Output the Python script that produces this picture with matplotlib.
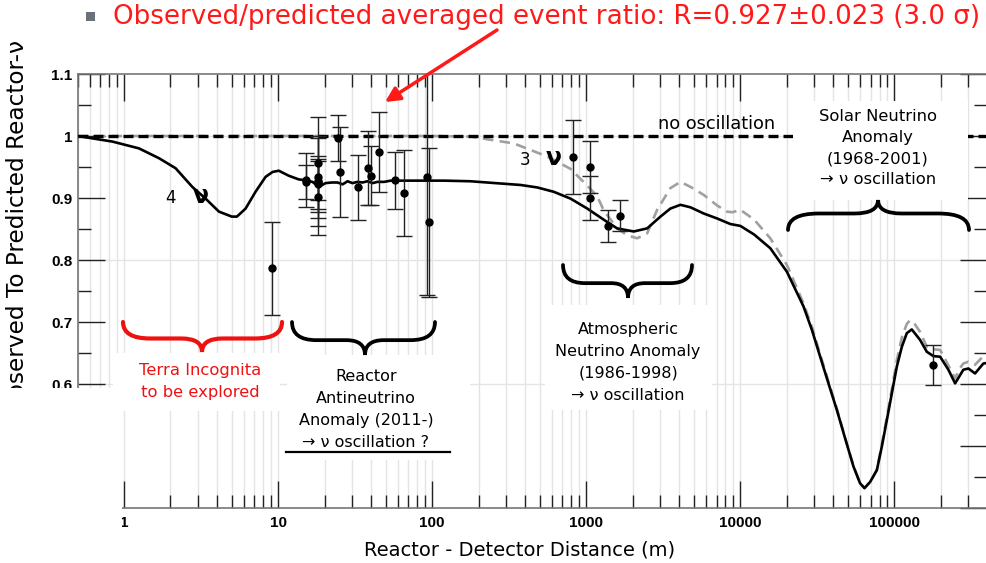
import matplotlib
matplotlib.use("Agg")
import matplotlib.pyplot as plt
from matplotlib.patches import Rectangle, PathPatch
from matplotlib.path import Path
from matplotlib.lines import Line2D
from matplotlib.transforms import Affine2D
from matplotlib.ticker import FixedLocator, NullFormatter, LogLocator

# ---------------- data ----------------
dist_4nu = [0.5, 0.84, 1.25, 1.69, 2.16, 2.77, 3.38, 4.13, 5.0, 5.4, 6.15, 7.13,
            8.28, 9.2, 10.1, 11.7, 13.6, 14.7, 16.7, 18.4, 20.3, 22.3, 24.3,
            26.2, 28.2, 30.4, 32.7, 35.3, 38.0, 41.0, 44.1, 48.7, 53.8, 59.4,
            119, 177, 375, 481, 615, 790, 1014, 1298, 1585, 2033, 2483, 3030,
            3516, 4083, 4742, 5781, 7059, 8616, 10000, 12300, 15640, 20050,
            25700, 29150, 32960, 37300, 42300, 47900, 54200, 59800, 63900,
            69500, 76900, 82800, 89300, 96200, 103600, 111700, 120300, 129600,
            146800, 162200, 179000, 197900, 224000, 247600, 280000, 302000,
            333600, 377600, 400000]
ratio_4nu = [1.000, 0.991, 0.980, 0.964, 0.948, 0.918, 0.899, 0.878, 0.870, 0.870,
             0.883, 0.910, 0.934, 0.942, 0.944, 0.936, 0.930, 0.929, 0.926, 0.918,
             0.924, 0.925, 0.925, 0.922, 0.927, 0.924, 0.926, 0.925, 0.927, 0.924,
             0.926, 0.926, 0.928, 0.928, 0.928, 0.927, 0.921, 0.917, 0.910, 0.899,
             0.883, 0.865, 0.851, 0.846, 0.851, 0.870, 0.883, 0.889, 0.885, 0.875,
             0.867, 0.858, 0.855, 0.841, 0.819, 0.781, 0.725, 0.687, 0.644, 0.601,
             0.558, 0.512, 0.467, 0.440, 0.432, 0.442, 0.461, 0.499, 0.542, 0.585,
             0.628, 0.660, 0.682, 0.688, 0.671, 0.652, 0.645, 0.644, 0.623, 0.601,
             0.623, 0.625, 0.617, 0.633, 0.634]

dist_3nu = [0.5, 100, 177, 339, 557, 790, 1014, 1176, 1298, 1585, 1841, 2138,
            2483, 2884, 3516, 4083, 4742, 5781, 7059, 8185, 8900, 10000, 12300,
            15640, 20050, 25700, 29150, 32960, 37300, 42300, 47900, 54200,
            59800, 63900, 69500, 76900, 82800, 89300, 96200, 103600, 111700,
            120300, 126500, 135000, 146800, 162200, 179000, 197900, 224000,
            247600, 265000, 280000, 302000, 333600, 377600, 400000]
ratio_3nu = [1.000, 1.000, 0.999, 0.988, 0.967, 0.947, 0.920, 0.903, 0.880, 0.851,
             0.840, 0.835, 0.843, 0.881, 0.916, 0.926, 0.918, 0.905, 0.888, 0.878,
             0.877, 0.881, 0.865, 0.835, 0.792, 0.730, 0.692, 0.648, 0.604, 0.560,
             0.513, 0.468, 0.440, 0.432, 0.442, 0.462, 0.502, 0.547, 0.592, 0.638,
             0.675, 0.697, 0.703, 0.697, 0.684, 0.660, 0.656, 0.655, 0.630, 0.609,
             0.625, 0.633, 0.636, 0.631, 0.645, 0.647]

no_osc_dist = [0.5, 400000]
no_osc_ratio = [1.0, 1.0]

exp_dist = [9.06, 15.1, 15.1, 18.2, 18.2, 18.2, 18.2, 18.2, 18.2, 24.3, 25.2,
            33.0, 38.3, 39.9, 45.2, 57.1, 65.6, 93.1, 95.3, 822, 1055, 1055,
            1387, 1667, 179000]
exp_ratio = [0.787, 0.929, 0.926, 0.956, 0.934, 0.928, 0.926, 0.922, 0.902, 0.997,
             0.942, 0.917, 0.948, 0.936, 0.974, 0.929, 0.908, 0.934, 0.861, 0.966,
             0.950, 0.900, 0.855, 0.871, 0.631]
exp_err = [0.075, 0.044, 0.028, 0.074, 0.066, 0.031, 0.071, 0.045, 0.061, 0.037,
           0.073, 0.053, 0.060, 0.048, 0.064, 0.046, 0.069, 0.190, 0.120, 0.060,
           0.042, 0.036, 0.026, 0.025, 0.032]

x_ticks = [1, 10, 100, 1000, 10000, 100000]
x_tick_labels = ["1", "10", "100", "1000", "10000", "100000"]
y_ticks = [0.4, 0.5, 0.6, 0.7, 0.8, 0.9, 1.0, 1.1]
y_tick_labels = ["0.4", "0.5", "0.6", "0.7", "0.8", "0.9", "1", "1.1"]
y_minor = [0.45, 0.55, 0.65, 0.75, 0.85, 0.95, 1.05]
y_grid = [0.4, 0.6, 0.8, 1.0]

title_text = "Observed/predicted averaged event ratio: R=0.927\u00b10.023 (3.0 \u03c3)"
ylabel_text = "Observed To Predicted Reactor-\u03bd"
xlabel_text = "Reactor - Detector Distance (m)"

# ---------------- figure ----------------
W, H = 987, 563
fig = plt.figure(figsize=(W / 100, H / 100), dpi=100)
ax = fig.add_axes([77.7 / W, 1 - 508 / H, (987.2 - 77.7) / W, (508 - 74) / H])
PX = Affine2D().scale(1 / W, -1 / H).translate(0, 1) + fig.transFigure
renderer = fig.canvas.get_renderer()

ax.set_xscale("log")
ax.set_xlim(0.5, 4e5)
ax.set_ylim(0.4, 1.1)
ax.set_axisbelow(True)

ax.xaxis.set_major_locator(FixedLocator(x_ticks))
ax.set_xticklabels(x_tick_labels)
ax.xaxis.set_minor_locator(LogLocator(base=10, subs=[2, 3, 4, 5, 6, 7, 8, 9], numticks=20))
ax.xaxis.set_minor_formatter(NullFormatter())
ax.yaxis.set_major_locator(FixedLocator(y_ticks))
ax.set_yticklabels(y_tick_labels)
ax.yaxis.set_minor_locator(FixedLocator(y_minor))

for lab in ax.get_xticklabels() + ax.get_yticklabels():
    lab.set_fontfamily(["Liberation Sans", "DejaVu Sans"])
    lab.set_fontweight("bold")
    lab.set_fontsize(11)

ax.tick_params(which="major", direction="in", length=19.5, width=1.0, color="#222222",
               top=True, right=True)
ax.tick_params(which="minor", direction="in", length=9.5, width=1.0, color="#222222",
               top=True, right=True)
ax.tick_params(axis="x", which="major", pad=6)
ax.tick_params(axis="y", which="major", pad=4)
for sp in ax.spines.values():
    sp.set_color("#777777")
    sp.set_linewidth(1.2)

ax.grid(True, axis="x", which="both", color="#e4e4e4", lw=1.0)
for gy in y_grid:
    ax.axhline(gy, color="#e4e4e4", lw=1.0, zorder=0.5)

# curves
ax.plot(dist_3nu, ratio_3nu, color="#a0a0a0", lw=1.9, dashes=(4, 2.4), zorder=3)
ax.plot(no_osc_dist, no_osc_ratio, color="black", lw=2.4, dashes=(3.0, 1.5), zorder=3.1)
ax.plot(dist_4nu, ratio_4nu, color="black", lw=1.9, zorder=3.2)
ax.errorbar(exp_dist, exp_ratio, yerr=exp_err, fmt="o", color="black", ms=5,
            ecolor="#222222", elinewidth=1.0, capsize=5.5, capthick=1.0, zorder=4)

# ---------------- white label boxes (figure pixels) ----------------
def white_box(x0, y0, x1, y1):
    fig.add_artist(Rectangle((x0, y1), x1 - x0, y0 - y1, transform=PX,
                             facecolor="white", edgecolor="none", zorder=2))

white_box(0, 388, 122.3, 563)
white_box(113, 353, 280, 411)
white_box(287, 355, 470, 460)
white_box(545, 305, 712, 410)
white_box(793, 101, 968, 200)

# ---------------- braces ----------------
def brace(x0, x1, y0, d, xm, color, lw):
    wdt = x1 - x0
    q = 0.17 * wdt
    q2 = 0.13 * wdt
    ya = y0 + 0.55 * d
    yt = y0 + d
    verts = [(x0, y0), (x0, ya), (x0 + q, ya), (xm - q2, ya), (xm, ya), (xm, yt),
             (xm, ya), (xm + q2, ya), (x1 - q, ya), (x1, ya), (x1, y0)]
    codes = [Path.MOVETO, Path.CURVE3, Path.CURVE3, Path.LINETO, Path.CURVE3,
             Path.CURVE3, Path.CURVE3, Path.CURVE3, Path.LINETO, Path.CURVE3,
             Path.CURVE3]
    fig.add_artist(PathPatch(Path(verts, codes), transform=PX, facecolor="none",
                             edgecolor=color, lw=lw, capstyle="round", zorder=3))

brace(123, 282, 322, 30, 202, "#ee1111", 3.0)
brace(292, 435, 322, 33, 365, "black", 2.7)
brace(563, 692, 265, 33, 628, "black", 2.7)
brace(788, 969, 230, -30, 878, "black", 2.7)

# ---------------- texts ----------------
ann_font = ["DejaVu Sans"]
fig.text(628, 362.5, "Atmospheric\nNeutrino Anomaly\n(1986-1998)\n\u2192 \u03bd oscillation",
         transform=PX, ha="center", va="center", multialignment="center",
         fontsize=11.5, linespacing=1.56, family=ann_font, zorder=4)
fig.text(878, 148, "Solar Neutrino\nAnomaly\n(1968-2001)\n\u2192 \u03bd oscillation",
         transform=PX, ha="center", va="center", multialignment="center",
         fontsize=11.8, linespacing=1.52, family=ann_font, zorder=4)
fig.text(366, 409.5, "Reactor\nAntineutrino\nAnomaly (2011-)\n\u2192 \u03bd oscillation ?",
         transform=PX, ha="center", va="center", multialignment="center",
         fontsize=11.5, linespacing=1.56, family=ann_font, zorder=4)
fig.add_artist(Line2D([286, 450], [452, 452], transform=PX, color="black", lw=1.6, zorder=4))
fig.text(200, 381.5, "Terra Incognita\nto be explored", transform=PX, ha="center",
         va="center", multialignment="center", fontsize=11.8, linespacing=1.6,
         color="#ee1111", family=ann_font, zorder=4)
fig.text(717, 124, "no oscillation", transform=PX, ha="center", va="center",
         fontsize=12.8, family=ann_font, zorder=4)
fig.text(170, 198, "4", transform=PX, ha="center", va="center", fontsize=12,
         family=ann_font, zorder=4)
fig.text(201, 196, "\u03bd", transform=PX, ha="center", va="center", fontsize=17,
         weight="bold", family=ann_font, zorder=4)
fig.text(525, 160, "3", transform=PX, ha="center", va="center", fontsize=12,
         family=ann_font, zorder=4)
fig.text(554, 158, "\u03bd", transform=PX, ha="center", va="center", fontsize=17,
         weight="bold", family=ann_font, zorder=4)

# y label: visible part "served To Predicted Reactor-v" spans ~345 px in the reference
probe = fig.text(0, 0, ylabel_text[2:], fontsize=14, family=ann_font)
pw = probe.get_window_extent(renderer).width
probe.remove()
ylab_size = 14 * 345 / pw
fig.text(18, 40, ylabel_text, transform=PX, rotation=90, ha="center", va="top",
         fontsize=ylab_size, family=ann_font, zorder=1)
fig.text(520, 550, xlabel_text, transform=PX, ha="center", va="center",
         fontsize=14, family=ann_font)

# title bullet, title and arrow
fig.add_artist(Rectangle((86, 21), 9, -9, transform=PX, facecolor="#6b7178",
                         edgecolor="none"))
title = fig.text(113, 17, title_text, transform=PX, ha="left", va="center",
                 color="#ff1a1a", fontsize=22,
                 family=["Liberation Sans Narrow", "DejaVu Sans"])
tw = title.get_window_extent(renderer).width
title.set_fontsize(22 * 862 / tw)

ax.annotate("", xy=(385, 102), xycoords=PX, xytext=(497, 30), textcoords=PX,
            arrowprops=dict(arrowstyle="-|>", color="#ff1a1a", lw=2.5,
                            mutation_scale=22, shrinkA=0, shrinkB=0),
            annotation_clip=False, zorder=6)

fig.savefig("out.png", dpi=100)
